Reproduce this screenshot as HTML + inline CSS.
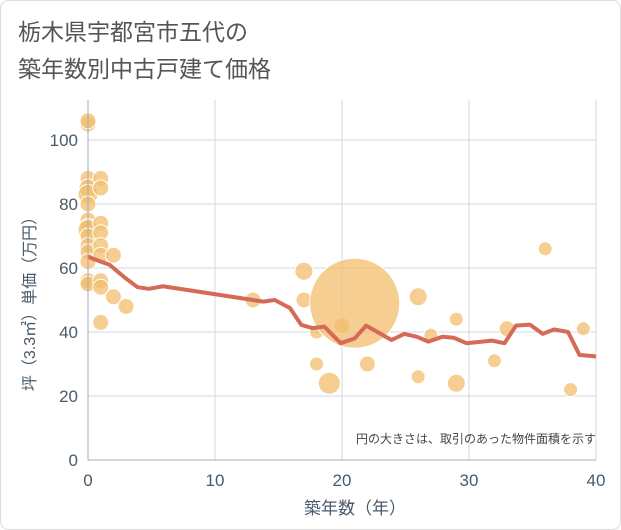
<!DOCTYPE html>
<html><head><meta charset="utf-8"><style>
body{margin:0;background:#fff;font-family:"Liberation Sans","Noto Sans CJK JP",sans-serif}
#wrap{position:relative;width:621px;height:530px;overflow:hidden}
</style></head><body>
<div id="wrap">
<svg id="chart" width="621" height="530" xmlns="http://www.w3.org/2000/svg">
<rect x="0.5" y="0.5" width="620" height="529" rx="8" fill="#fff" stroke="#ddd"/>
<text x="18" y="40" font-size="23" fill="#555" font-family="'Liberation Sans','Noto Sans CJK JP',sans-serif">栃木県宇都宮市五代の</text>
<text x="18" y="77" font-size="23" fill="#555" font-family="'Liberation Sans','Noto Sans CJK JP',sans-serif">築年数別中古戸建て価格</text>
<g id="grid"></g><g id="bubbles"></g><g id="line"></g><g id="axes"></g>
<text x="596" y="443" font-size="12" fill="#444" text-anchor="end" font-family="'Liberation Sans','Noto Sans CJK JP',sans-serif">円の大きさは、取引のあった物件面積を示す</text>
<text x="355" y="514" font-size="17" fill="#4a5a6b" text-anchor="middle" font-family="'Liberation Sans','Noto Sans CJK JP',sans-serif">築年数（年）</text>
<text transform="translate(35,300) rotate(-90)" font-size="16" fill="#4a5a6b" text-anchor="middle" font-family="'Liberation Sans','Noto Sans CJK JP',sans-serif">坪（3.3㎡）単価（万円）</text>
</svg></div>
<script>
const xTicks=[0,10,20,30,40];
const yTicks=[0,20,40,60,80,100];
const bubbleX=[0,0,0,0,0,0,0,0,0,0,0,0,0,0,0,1,1,1,1,1,1,1,1,1,2,2,3,13,17,17,18,18,19,20,21,22,26,26,27,29,29,32,33,36,38,39];
const bubbleY=[105,106,88,85,83,80,75,73,72,70,67,65,62,56,55,88,85,74,71,67,64,56,54,43,64,51,48,50,59,50,40,30,24,42,49,30,51,26,39,44,24,31,41,66,22,41];
const bubbleR=[8,8,8,9,10,8,8,8,10,8,8,8,8,8,8,8,8,8,8,8,8,8,8,8,8,8,8,8,9,8,7,7,11,8,45,8,9,7,7,7,9,7,8,7,7,7];
const lineX=[0,1,1.7,2.9,3.9,4.8,5.9,13.8,14.7,15.9,16.8,17.7,18.6,19.9,21,21.9,23.9,24.9,25.9,26.8,27.9,28.8,29.8,31.8,32.8,33.7,34.8,35.8,36.7,37.8,38.7,39.7,40];
const lineY=[63.5,62,61,57,54,53.5,54.3,49.5,50,47.5,42.2,41.2,41.7,36.5,38,42,37.5,39.4,38.5,37,38.5,38.2,36.5,37.3,36.5,42,42.3,39.4,40.8,40,32.8,32.5,32.3];
const X0=88,X1=596,Y0=460,Y1=140;
const sx=v=>X0+(X1-X0)*v/40, sy=v=>Y0-(Y0-Y1)*v/100;
const NS='http://www.w3.org/2000/svg';
function mk(t,a,p){const e=document.createElementNS(NS,t);for(const k in a)e.setAttribute(k,a[k]);p.appendChild(e);return e;}
const grid=document.getElementById('grid'),axes=document.getElementById('axes');
mk('rect',{x:X0,y:100,width:X1-X0,height:Y0-100,fill:'#fff'},grid);
xTicks.forEach(t=>{if(t>0){const l=mk('line',{x1:sx(t),x2:sx(t),y1:100,y2:Y0,stroke:'#cdd8e3','stroke-width':1},grid);

}
const tx=mk('text',{x:sx(t),y:486,'font-size':17,fill:'#4a5a6b','text-anchor':'middle'},axes);tx.textContent=t;

});
yTicks.forEach(t=>{if(t>0){const l=mk('line',{x1:X0,x2:X1,y1:sy(t),y2:sy(t),stroke:'#cdd8e3','stroke-width':1},grid);

}
const tx=mk('text',{x:78,y:sy(t)+6,'font-size':17,fill:'#4a5a6b','text-anchor':'end'},axes);tx.textContent=t;

});
const ax=mk('path',{d:`M${X0},100V${Y0}H${X1}`,fill:'none',stroke:'#aab','stroke-width':1},axes);


const bg=document.getElementById('bubbles');
bubbleX.forEach((x,i)=>{const c=mk('circle',{cx:sx(x),cy:sy(bubbleY[i]),r:bubbleR[i],fill:'#f3be6c','fill-opacity':0.75,stroke:'#fff','stroke-width':1},bg);

});
const p=mk('polyline',{points:lineX.map((x,i)=>sx(x)+','+sy(lineY[i])).join(' '),fill:'none',stroke:'#d56b56','stroke-width':4,'stroke-linejoin':'round'},document.getElementById('line'));


</script></body></html>
